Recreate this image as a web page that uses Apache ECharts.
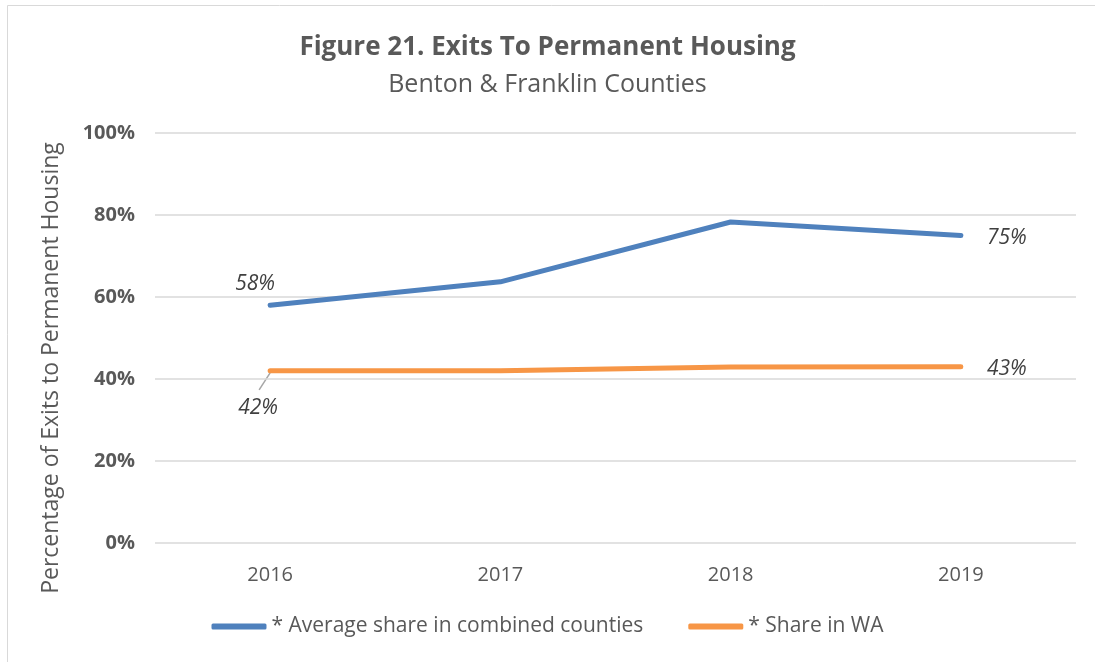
<!DOCTYPE html>
<html>
<head>
<meta charset="utf-8">
<script src="https://cdn.jsdelivr.net/npm/echarts@6/dist/echarts.min.js"></script>
<style>
    html, body { margin: 0; padding: 0; background: #fff; }
    #chart { width: 1095px; height: 662px; }
</style>
</head>
<body>
<div id="chart"></div>
<script>
var years = ['2016', '2017', '2018', '2019'];
var countiesShare = [58, 63.7, 78.3, 75];
var waShare = [42, 42, 42.9, 43];
var yTicks = [0, 20, 40, 60, 80, 100];

(function() {
    var myChart = echarts.init(document.getElementById('chart'));
    var font = 'Open Sans';

    // 只在首尾两点显示标签
    function makeData(values, firstItem, lastItem) {
        return values.map(function(v, i) {
            var item = { value: v };
            if (i === 0) Object.assign(item, firstItem);
            else if (i === values.length - 1) Object.assign(item, lastItem);
            return item;
        });
    }

    var labelText = {
        show: false,
        fontFamily: font,
        fontStyle: 'italic',
        fontSize: 21,
        color: '#404040',
        formatter: function(p) { return Math.round(p.value) + '%'; }
    };

    var border = {
        type: 'rect',
        shape: { x: 7.5, y: 5.5, width: 1100, height: 700 },
        style: { fill: 'none', stroke: '#d9d9d9', lineWidth: 1 },
        silent: true
    };

    var option = {
        backgroundColor: '#fff',
        textStyle: { fontFamily: font },
        title: {
            text: 'Figure 21. Exits To Permanent Housing',
            subtext: 'Benton & Franklin Counties',
            left: 'center',
            top: 30,
            itemGap: 11,
            textStyle: { fontFamily: font, fontSize: 26, fontWeight: 'bold', color: '#595959' },
            subtextStyle: { fontFamily: font, fontSize: 25, color: '#595959' }
        },
        graphic: [border],
        legend: {
            bottom: 20,
            left: 'center',
            itemWidth: 55,
            itemHeight: 6,
            itemGap: 45,
            icon: 'roundRect',
            textStyle: { fontFamily: font, fontSize: 21, color: '#595959' },
            data: ['* Average share in combined counties', '* Share in WA']
        },
        grid: { left: 155, right: 19, top: 133, bottom: 119 },
        xAxis: {
            type: 'category',
            boundaryGap: true,
            data: years,
            axisLine: { show: false },
            axisTick: { show: false },
            axisLabel: { fontFamily: font, fontSize: 20, color: '#595959', margin: 22 }
        },
        yAxis: {
            type: 'value',
            min: yTicks[0],
            max: yTicks[yTicks.length - 1],
            interval: 20,
            name: 'Percentage of Exits to Permanent Housing',
            nameLocation: 'middle',
            nameGap: 92,
            nameTextStyle: { fontFamily: font, fontSize: 23, color: '#595959', padding: [0, 60, 0, 0] },
            axisLine: { show: false },
            axisTick: { show: false },
            splitLine: { lineStyle: { color: '#d9d9d9', width: 1.5 } },
            axisLabel: {
                fontFamily: font, fontSize: 20, fontWeight: 'bold', color: '#595959', margin: 20,
                formatter: '{value}%'
            }
        },
        series: [{
            name: '* Average share in combined counties',
            type: 'line',
            symbol: 'circle',
            symbolSize: 0,
            lineStyle: { width: 5, color: '#4f81bd', cap: 'round' },
            itemStyle: { color: '#4f81bd' },
            label: labelText,
            data: makeData(countiesShare,
                { label: { show: true, position: 'top', offset: [-15, -6] } },
                { label: { show: true, position: 'right', offset: [21, 3] } })
        }, {
            name: '* Share in WA',
            type: 'line',
            symbol: 'circle',
            symbolSize: 0,
            lineStyle: { width: 5, color: '#f79646', cap: 'round' },
            itemStyle: { color: '#f79646' },
            label: labelText,
            data: makeData(waShare,
                { label: { show: true, position: 'bottom', offset: [-12, 22] } },
                { label: { show: true, position: 'right', offset: [21, 2] } })
        }]
    };
    myChart.setOption(option);

    // 42% 的引导线, 从数据点斜向左下
    var pt = myChart.convertToPixel({ seriesIndex: 1 }, [0, waShare[0]]);
    myChart.setOption({
        graphic: [border, {
            type: 'line',
            shape: { x1: pt[0], y1: pt[1] + 2, x2: pt[0] - 11, y2: pt[1] + 19 },
            style: { stroke: '#a6a6a6', lineWidth: 1.5 },
            silent: true
        }]
    });
})();
</script>
</body>
</html>
